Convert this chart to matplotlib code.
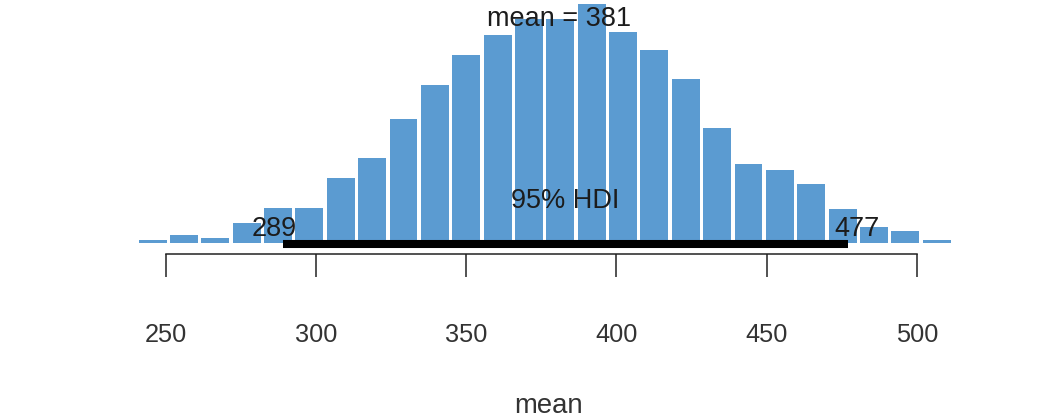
import numpy as np
import matplotlib
matplotlib.use("Agg")
import matplotlib.pyplot as plt

# ---- data ----
bin_start = 198.54          # left edge of first bin
bin_width = 188.0 / 18.0    # HDI width / 18 (BEST plotPost style)
counts = [1, 1, 2, 2,
          34, 84, 50, 200, 350, 350, 650, 850, 1240, 1580, 1880, 2080,
          2240, 2240, 2390, 2110, 1934, 1644, 1154, 794, 734, 594, 337,
          160, 120, 34, 3, 1]
mean_val = 381
hdi = [289, 477]
x_ticks = [250, 300, 350, 400, 450, 500]
x_label = "mean"

plt.rcParams['font.family'] = ['Liberation Sans', 'DejaVu Sans']

fig = plt.figure(figsize=(10.39, 4.19), dpi=100)
ax = fig.add_axes([0, 0, 1, 1])

edges = bin_start + bin_width * np.arange(len(counts) + 1)
centers = (edges[:-1] + edges[1:]) / 2
ax.bar(centers, counts, width=bin_width * 0.89, color='#5B9BD1',
       edgecolor='none', zorder=2)

# HDI bar
ax.plot(hdi, [-10, -10], color='black', lw=5.8, solid_capstyle='butt', zorder=3)

txt_color = '#1c1c1c'
fs = 19.5
ax.text(mean_val, 2165, f"mean = {mean_val}", ha='center', va='baseline',
        fontsize=fs, color=txt_color, zorder=4)
ax.text(np.mean(hdi), 347, "95% HDI", ha='center', va='baseline',
        fontsize=fs, color=txt_color, zorder=4)
ax.annotate(f"{hdi[0]}", (hdi[0], 75), xytext=(-6.5, 0), textcoords='offset points',
            ha='center', va='baseline', fontsize=fs, color=txt_color, zorder=4)
ax.annotate(f"{hdi[1]}", (hdi[1], 75), xytext=(6.5, 0), textcoords='offset points',
            ha='center', va='baseline', fontsize=fs, color=txt_color, zorder=4)

ax.set_xlim(194.72, 540.71)
ax.set_ylim(-1760, 2430)

for s in ['top', 'right', 'left']:
    ax.spines[s].set_visible(False)
ax.spines['bottom'].set_position(('data', -110))
ax.spines['bottom'].set_bounds(x_ticks[0], x_ticks[-1])
ax.spines['bottom'].set_linewidth(1.1)
ax.spines['bottom'].set_color('#222222')
ax.set_yticks([])
ax.set_xticks(x_ticks)
ax.set_xticklabels([str(t) for t in x_ticks])
ax.tick_params(axis='x', direction='out', length=16.6, width=1.1, color='#222222',
               pad=33.0, labelsize=18.3, labelcolor='#333333')

ax.set_xlabel(x_label, fontsize=19.8, color='#333333')
ax.xaxis.set_label_coords(377.3, -1700, transform=ax.transData)
ax.xaxis.label.set_va('baseline')

ax.set_facecolor('white')
fig.savefig('out.png', dpi=100, facecolor='white')
